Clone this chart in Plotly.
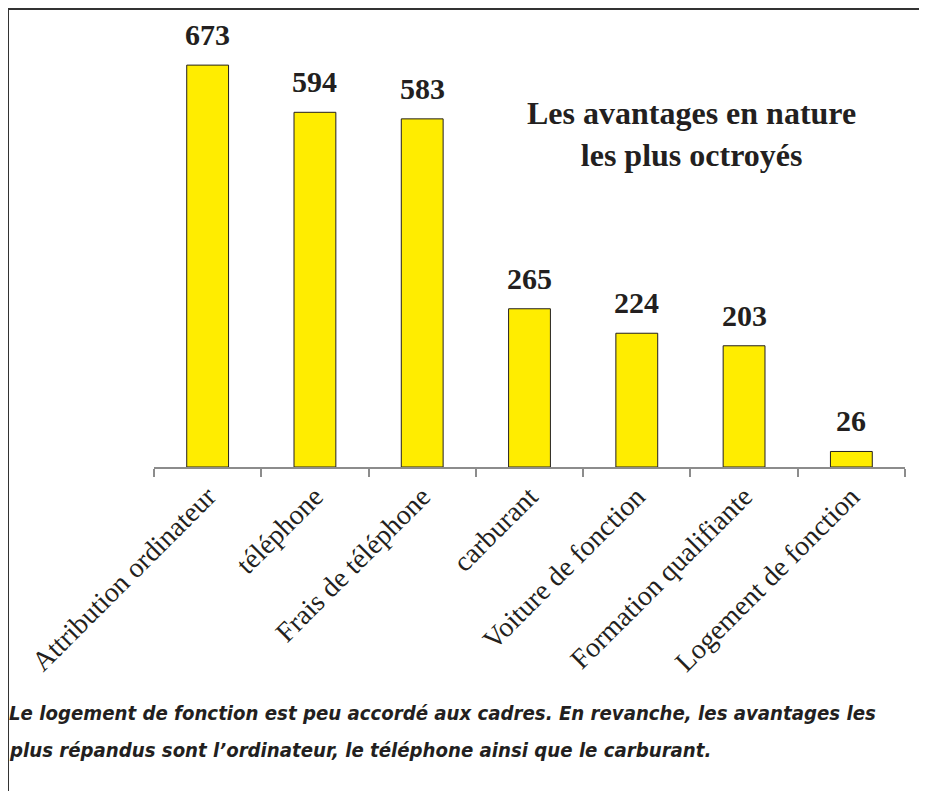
import plotly.graph_objects as go

CATEGORIES = [
    "Attribution ordinateur",
    "téléphone",
    "Frais de téléphone",
    "carburant",
    "Voiture de fonction",
    "Formation qualifiante",
    "Logement de fonction",
]
VALUES = [673, 594, 583, 265, 224, 203, 26]

TITLE = "Les avantages en nature<br>les plus octroyés"
CAPTION_LINES = [
    "Le logement de fonction est peu accordé aux cadres. En revanche, les avantages les",
    "plus répandus sont l’ordinateur, le téléphone ainsi que le carburant.",
]

TEXT_COLOR = "#231f20"
BAR_COLOR = "#ffed00"
AXIS_COLOR = "#8c8c8c"
SERIF = "Liberation Serif, Times New Roman, serif"
NARROW = "DejaVu Sans Condensed, Liberation Sans Narrow, Arial Narrow, sans-serif"

fig = go.Figure(
    go.Bar(
        x=CATEGORIES,
        y=VALUES,
        width=0.39,
        marker=dict(color=BAR_COLOR, line=dict(color=TEXT_COLOR, width=1)),
        hovertemplate="<b>%{x}</b><br>%{y}<extra></extra>",
    )
)

for cat, val in zip(CATEGORIES, VALUES):
    fig.add_annotation(
        x=cat, y=val, text=f"<b>{val}</b>", showarrow=False,
        yanchor="bottom", yshift=12,
        font=dict(family=SERIF, size=30, color=TEXT_COLOR),
    )

fig.add_annotation(
    xref="paper", yref="paper", x=0.716, y=0.797, text=f"<b>{TITLE}</b>",
    showarrow=False, align="center", xanchor="center", yanchor="middle",
    font=dict(family=SERIF, size=32, color=TEXT_COLOR),
)

for line, ypos in zip(CAPTION_LINES, [-0.5885, -0.677]):
    fig.add_annotation(
        xref="paper", yref="paper", x=-0.1957, y=ypos, text=f"<b><i>{line}</i></b>",
        showarrow=False, align="left", xanchor="left", yanchor="middle",
        font=dict(family=NARROW, size=20.2, color=TEXT_COLOR),
    )

# frame: only the top and left edges show in the picture
fig.add_shape(type="line", xref="paper", yref="paper", x0=-0.1944, x1=1.1, y0=1.0957, y1=1.0957,
              line=dict(color="#333333", width=2))
fig.add_shape(type="line", xref="paper", yref="paper", x0=-0.1944, x1=-0.1944, y0=1.0957, y1=-0.9,
              line=dict(color="#333333", width=2))

fig.update_layout(
    width=927,
    height=791,
    paper_bgcolor="white",
    plot_bgcolor="white",
    margin=dict(l=146, r=30, t=41, b=332),
    showlegend=False,
    xaxis=dict(
        showgrid=False,
        showline=True,
        linecolor=AXIS_COLOR,
        linewidth=2,
        ticks="outside",
        tickson="boundaries",
        tickcolor=AXIS_COLOR,
        tickwidth=2,
        ticklen=8,
        tickangle=-45,
        tickfont=dict(family=SERIF, size=28, color=TEXT_COLOR),
    ),
    yaxis=dict(
        range=[0, 700],
        visible=False,
        showgrid=False,
        zeroline=False,
    ),
)

fig.write_html("out.html")
